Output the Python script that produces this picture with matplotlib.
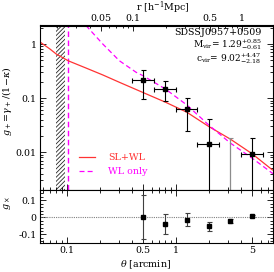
import numpy as np
import matplotlib
matplotlib.use('Agg')
import matplotlib.pyplot as plt
from matplotlib.ticker import FixedLocator, FuncFormatter, MultipleLocator, NullFormatter

plt.rcParams['font.family'] = 'DejaVu Serif'
plt.rcParams['mathtext.fontset'] = 'dejavuserif'
plt.rcParams['font.size'] = 6.8
plt.rcParams['hatch.linewidth'] = 0.6

# binned shear profile
theta = [0.5, 0.79, 1.26, 2.0, 3.16, 5.0]
theta_lo = [0.40, 0.63, 1.0, 1.58, 2.51, 3.98]
theta_hi = [0.63, 1.0, 1.58, 2.51, 3.98, 6.3]
gplus = [0.217, 0.148, 0.063, 0.0139, -0.010, 0.0091]
gplus_err = [0.12, 0.06, 0.038, 0.0274, 0.0284, 0.0093]
gcross = [0.0, -0.039, -0.013, -0.052, -0.020, 0.007]
gcross_err = [0.128, 0.057, 0.037, 0.027, 0.012, 0.006]

# model curves
sl_theta = [0.0557, 0.07, 0.08, 0.103, 0.15, 0.214, 0.304, 0.5, 0.8, 1.26, 2.0, 3.16, 5.0, 7.7]
sl_g = [1.12, 0.81, 0.654, 0.49, 0.36, 0.268, 0.196, 0.127, 0.0844, 0.055, 0.030, 0.0175, 0.0094, 0.0047]
wl_theta = [0.15, 0.214, 0.304, 0.433, 0.5, 0.8, 1.26, 2.0, 3.16, 5.0, 7.8]
wl_g = [2.2, 1.0, 0.49, 0.30, 0.26, 0.148, 0.075, 0.032, 0.0148, 0.0078, 0.0040]

theta_excl = (0.08, 0.096)   # hatched region
theta_wl_ein = 0.103          # WL-only critical radius
arcmin_to_mpc = 0.245

W, H = 274, 272
fig = plt.figure(figsize=(W / 100, H / 100), dpi=100)
x0, x1 = 39.5, 272.7
ax1 = fig.add_axes([x0 / W, 1 - 190 / H, (x1 - x0) / W, (190 - 25.5) / H])
ax2 = fig.add_axes([x0 / W, 1 - 243 / H, (x1 - x0) / W, 53 / H])

xlim = (0.0562, 7.75)

# ---- upper panel
ax1.set_xscale('log')
ax1.set_yscale('log')
ax1.set_xlim(*xlim)
ax1.set_ylim(0.002, 2.2)

ax1.axvspan(*theta_excl, facecolor='none', edgecolor='0.15', hatch='////////', lw=0)
ax1.axvline(theta_wl_ein, color='magenta', ls=(0, (4, 2.5)), lw=1)
ax1.plot(sl_theta, sl_g, color='#ff3333', lw=0.9, label='SL+WL')
ax1.plot(wl_theta, wl_g, color='magenta', lw=0.9, ls=(0, (4, 2.5)), label='WL only')

th = np.array(theta)
xerr = [th - np.array(theta_lo), np.array(theta_hi) - th]
gp = np.array(gplus)
gpe = np.array(gplus_err)
pos = gp > 0
ax1.errorbar(th[pos], gp[pos], yerr=gpe[pos],
             xerr=[xerr[0][pos], xerr[1][pos]],
             fmt='s', color='black', ms=3, lw=0.8, capsize=1.8, capthick=0.8)
ax1.errorbar(th[~pos], gp[~pos], yerr=gpe[~pos], fmt='none', ecolor='0.55',
             lw=0.9, capsize=1.8, capthick=0.8)

leg = ax1.legend(loc='lower left', bbox_to_anchor=(0.17, 0.085), frameon=False,
                 labelcolor='linecolor', handlelength=1.7, handletextpad=1.4,
                 borderpad=0, borderaxespad=0, labelspacing=0.5)

ax1.text(0.953, 0.957, 'SDSSJ0957+0509', transform=ax1.transAxes, ha='right', va='center')
ax1.text(0.953, 0.884, r'M$_{\rm vir}$= 1.29$^{+0.85}_{-0.61}$', transform=ax1.transAxes,
         ha='right', va='center', fontsize=6.5)
ax1.text(0.950, 0.800, r'c$_{\rm vir}$= 9.02$^{+4.47}_{-2.18}$', transform=ax1.transAxes,
         ha='right', va='center', fontsize=6.5)

ax1.set_ylabel(r'$g_+\!=\!\gamma_+/(1\!-\!\kappa)$')
ax1.yaxis.set_label_coords(-0.11, 0.54)
ax1.yaxis.set_major_locator(FixedLocator([0.01, 0.1, 1]))
ax1.yaxis.set_major_formatter(FuncFormatter(lambda v, p: '%g' % v))
ax1.yaxis.set_minor_locator(FixedLocator([m * 10.0 ** e for e in range(-3, 1) for m in range(2, 10)]))
ax1.yaxis.set_minor_formatter(NullFormatter())

top = ax1.secondary_xaxis('top', functions=(lambda t: t * arcmin_to_mpc,
                                            lambda r: r / arcmin_to_mpc))
top.xaxis.set_major_locator(FixedLocator([0.05, 0.1, 0.5, 1]))
top.xaxis.set_major_formatter(FuncFormatter(lambda v, p: '%g' % v))
top.xaxis.set_minor_locator(FixedLocator([m * 10.0 ** e for e in range(-2, 1) for m in range(2, 10)]))
top.xaxis.set_minor_formatter(NullFormatter())
top.tick_params(which='major', direction='in', length=4, width=0.6, pad=2)
top.tick_params(which='minor', direction='in', length=2, width=0.6)
top.set_xlabel(r'r [h$^{-1}$Mpc]')
top.xaxis.set_label_coords(0.53, 1.09, transform=ax1.transAxes)

# ---- lower panel
ax2.set_xscale('log')
ax2.set_xlim(*xlim)
ax2.set_ylim(-0.15, 0.16)
ax2.axhline(0, color='0.5', ls=(0, (1, 1)), lw=0.8)
ax2.errorbar(theta, gcross, yerr=gcross_err, fmt='s', color='black', ecolor='0.25',
             ms=3, lw=0.8, capsize=1.8, capthick=0.8)
ax2.set_ylabel(r'$g_\times$')
ax2.yaxis.set_label_coords(-0.115, 0.75)
ax2.set_xlabel(r'$\theta$ [arcmin]')
ax2.xaxis.set_label_coords(0.455, -0.29)
ax2.yaxis.set_major_locator(MultipleLocator(0.1))
ax2.yaxis.set_minor_locator(MultipleLocator(0.02))
ax2.yaxis.set_major_formatter(FuncFormatter(lambda v, p: '%g' % round(v, 2) if abs(v) > 1e-9 else '0'))

for ax in (ax1, ax2):
    ax.xaxis.set_major_locator(FixedLocator([0.1, 0.5, 1, 5]))
    ax.xaxis.set_major_formatter(FuncFormatter(lambda v, p: '%g' % v))
    ax.xaxis.set_minor_locator(FixedLocator([m * 10.0 ** e for e in range(-2, 1) for m in range(2, 10)]))
    ax.xaxis.set_minor_formatter(NullFormatter())
    ax.tick_params(which='major', direction='in', length=4, width=0.6, right=True, pad=2)
    ax.tick_params(which='minor', direction='in', length=2, width=0.6, right=True)
    for s in ax.spines.values():
        s.set_linewidth(0.8)

ax1.tick_params(axis='x', which='both', labelbottom=False)
ax2.tick_params(axis='x', which='both', top=True)

fig.savefig('out.png', dpi=100)
